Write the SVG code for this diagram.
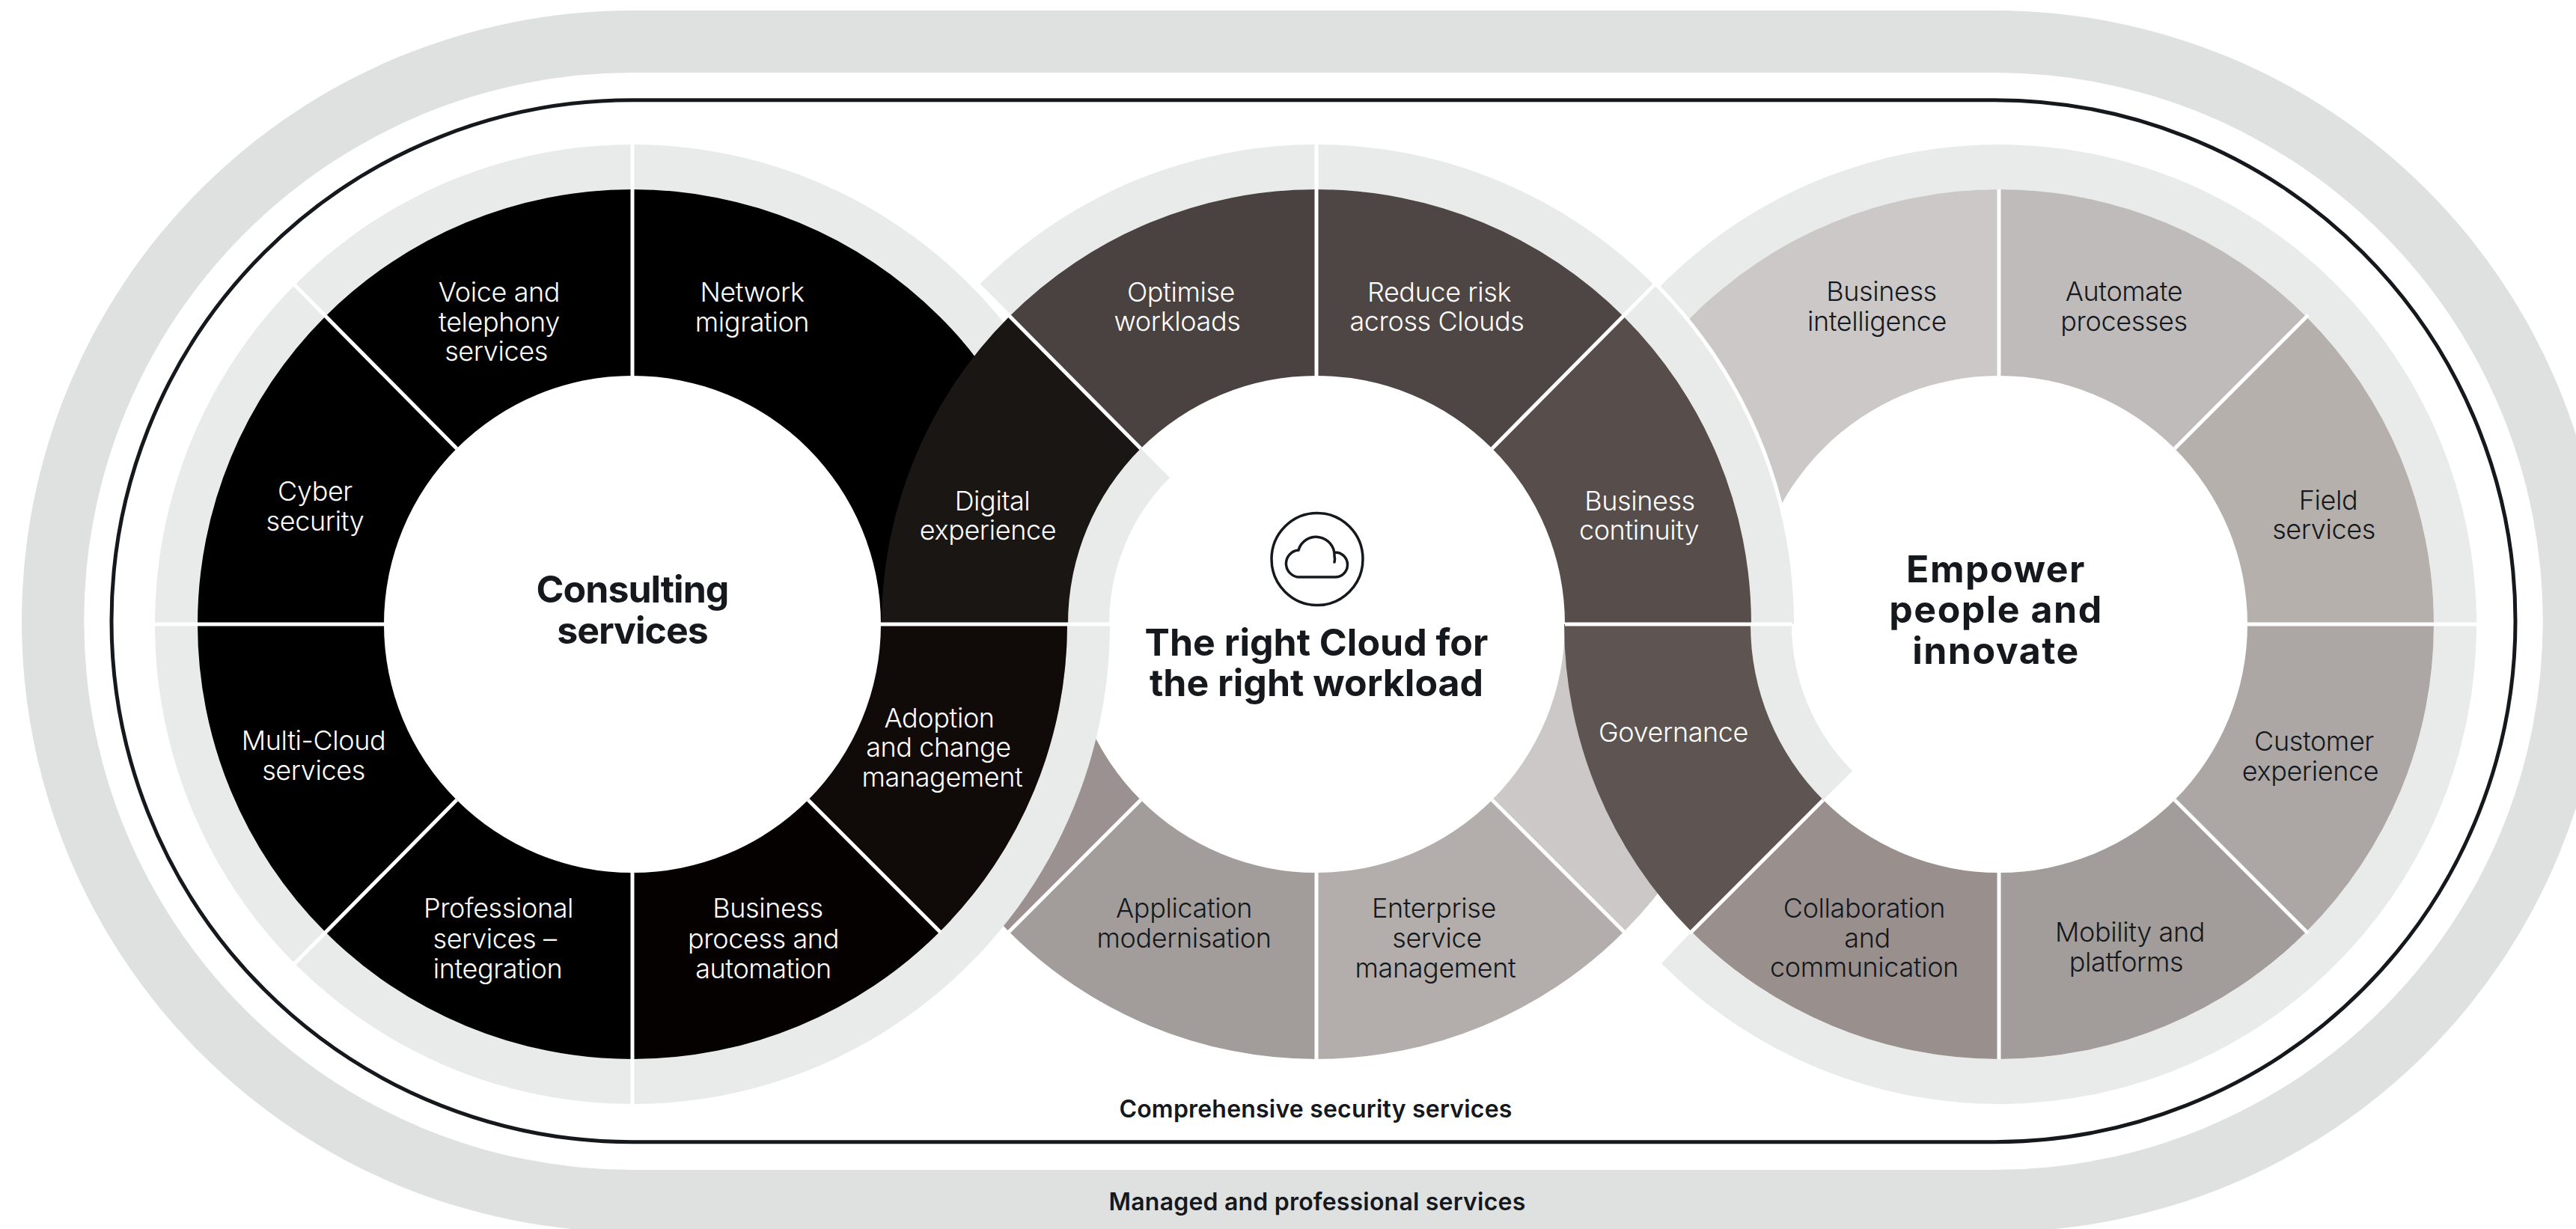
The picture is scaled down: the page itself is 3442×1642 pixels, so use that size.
<svg xmlns="http://www.w3.org/2000/svg" width="3442" height="1642" viewBox="0 0 3442 1642">
<style>
text{font-family:"Inter","Liberation Sans",sans-serif;text-anchor:middle}
.l{font-size:36px;font-weight:300;letter-spacing:-.4px}
.w{fill:#fff}
.k{fill:#15181c}
.h{font-size:50px;font-weight:700;fill:#15181c}
.h1{letter-spacing:-1px}
.h3{letter-spacing:1.5px}
.s{font-size:32px;font-weight:600;fill:#15181c;letter-spacing:.2px}
.ring{fill:#e9ebea}
.div{stroke:#fff;stroke-width:5;fill:none}
</style>
<g id="managed-services">
<path fill="#dfe1e0" fill-rule="evenodd" d="M845 14H2665A816 816 0 0 1 2665 1646H845A816 816 0 0 1 845 14ZM845 97A733 733 0 0 0 845 1563H2665A733 733 0 0 0 2665 97Z"/>
<text class="s" x="1760" y="1617">Managed and professional services</text>
</g>
<g id="security-services">
<path fill="none" stroke="#15181c" stroke-width="5" d="M845 133.7H2665A696 696 0 0 1 2665 1525.7H845A696 696 0 0 1 845 133.7Z"/>
<text class="s" x="1758" y="1493">Comprehensive security services</text>
</g>

<g id="right-ring-under">
<path class="ring" d="M2182.3 422A638 641 0 1 1 2220 1287.3L2260.2 1244.8A581 581 0 1 0 2226 460.5Z"/>
</g>
<g id="business-intelligence">
<path fill="#cdc8c8" d="M2090 834A581 581 0 0 1 2671 253V502A332 332 0 0 0 2339 834Z"/>
<text class="l k" x="2514" y="402">Business</text><text class="l k" x="2508" y="442">intelligence</text>
</g>

<g id="centre-lower">
<path fill="#cdc8c8" d="M2340 834A581 581 0 0 1 2169.8 1244.8L1993.8 1068.8A332 332 0 0 0 2091 834Z"/>
<path fill="#9a9190" d="M1348.2 1244.8A581 581 0 0 1 1178 834H1427A332 332 0 0 0 1524.2 1068.8Z"/>
</g>
<g id="enterprise-service-management">
<path fill="#b3aeab" d="M2169.8 1244.8A581 581 0 0 1 1759 1415V1166A332 332 0 0 0 1993.8 1068.8Z"/>
<text class="l k" x="1916" y="1226">Enterprise</text><text class="l k" x="1920" y="1266">service</text><text class="l k" x="1918" y="1306">management</text>
</g>
<g id="application-modernisation">
<path fill="#a29d9a" d="M1759 1415A581 581 0 0 1 1348.2 1244.8L1524.2 1068.8A332 332 0 0 0 1759 1166Z"/>
<text class="l k" x="1582" y="1226">Application</text><text class="l k" x="1582" y="1266">modernisation</text>
</g>

<g id="left-ring">
<path class="ring" d="M1483 834A638 641 0 1 1 1397.5 513.5L1348.2 543.5A581 581 0 1 0 1426 834Z"/>
</g>
<g id="network-migration">
<path fill="#000" d="M845 253A581 581 0 0 1 1426 834H1177A332 332 0 0 0 845 502Z"/>
<text class="l w" x="1005" y="403">Network</text><text class="l w" x="1005" y="443">migration</text>
</g>
<g id="voice-telephony">
<path fill="#000" d="M434.2 423.2A581 581 0 0 1 845 253V502A332 332 0 0 0 610.2 599.2Z"/>
<text class="l w" x="667" y="403">Voice and</text><text class="l w" x="667" y="443">telephony</text><text class="l w" x="663" y="482">services</text>
</g>
<g id="cyber-security">
<path fill="#000" d="M264 834A581 581 0 0 1 434.2 423.2L610.2 599.2A332 332 0 0 0 513 834Z"/>
<text class="l w" x="421" y="669">Cyber</text><text class="l w" x="421" y="709">security</text>
</g>
<g id="multi-cloud">
<path fill="#000" d="M264 834H513A332 332 0 0 0 610.2 1068.8L434.2 1244.8A581 581 0 0 1 264 834Z"/>
<text class="l w" x="419" y="1002">Multi-Cloud</text><text class="l w" x="419" y="1042">services</text>
</g>
<g id="professional-services">
<path fill="#000" d="M434.2 1244.8L610.2 1068.8A332 332 0 0 0 845 1166V1415A581 581 0 0 1 434.2 1244.8Z"/>
<text class="l w" x="666" y="1226">Professional</text><text class="l w" x="661" y="1267">services –</text><text class="l w" x="665" y="1307">integration</text>
</g>
<g id="business-process">
<path fill="#050101" d="M845 1415V1166A332 332 0 0 0 1079.8 1068.8L1255.8 1244.8A581 581 0 0 1 845 1415Z"/>
<text class="l w" x="1026" y="1226">Business</text><text class="l w" x="1020" y="1267">process and</text><text class="l w" x="1020" y="1307">automation</text>
</g>
<g id="adoption-change">
<path fill="#100a08" d="M1255.8 1244.8L1079.8 1068.8A332 332 0 0 0 1177 834H1426A581 581 0 0 1 1255.8 1244.8Z"/>
<text class="l w" x="1255" y="972">Adoption</text><text class="l w" x="1254" y="1011">and change</text><text class="l w" x="1259" y="1051">management</text>
</g>
<g id="consulting-services">
<text class="h h1" x="845" y="805">Consulting</text><text class="h h1" x="845" y="860">services</text>
</g>

<g id="centre-ring">
<path fill="#fff" d="M1759 834L1304.3 377.2A643 646 0 0 1 2402 834Z"/>
<path class="ring" d="M1308 380.7A638 641 0 0 1 2397 834H2340A581 581 0 0 0 1348.2 423.2Z"/>
<path class="ring" d="M1482 834A277 277 0 0 1 1563.1 638.1L1524.2 599.2A332 332 0 0 0 1427 834Z"/>
</g>
<g id="digital-experience">
<path fill="#1a1613" d="M1178 834A581 581 0 0 1 1348.2 423.2L1524.2 599.2A332 332 0 0 0 1427 834Z"/>
<text class="l w" x="1326" y="682">Digital</text><text class="l w" x="1320" y="721">experience</text>
</g>
<g id="optimise-workloads">
<path fill="#4a4240" d="M1348.2 423.2A581 581 0 0 1 1759 253V502A332 332 0 0 0 1524.2 599.2Z"/>
<text class="l w" x="1578" y="403">Optimise</text><text class="l w" x="1573" y="442">workloads</text>
</g>
<g id="reduce-risk">
<path fill="#4e4644" d="M1759 253A581 581 0 0 1 2169.8 423.2L1993.8 599.2A332 332 0 0 0 1759 502Z"/>
<text class="l w" x="1923" y="403">Reduce risk</text><text class="l w" x="1920" y="442">across Clouds</text>
</g>
<g id="business-continuity">
<path fill="#574e4c" d="M2169.8 423.2A581 581 0 0 1 2340 834H2091A332 332 0 0 0 1993.8 599.2Z"/>
<text class="l w" x="2191" y="682">Business</text><text class="l w" x="2190" y="721">continuity</text>
</g>
<g id="right-cloud">
<ellipse cx="1760" cy="747" rx="61" ry="61.5" fill="none" stroke="#15181c" stroke-width="3.5"/>
<path fill="none" stroke="#15181c" stroke-width="3.5" stroke-linecap="round" d="M1784 738A16.5 16.5 0 0 1 1784 771H1738A18 18 0 0 1 1735 735A24.5 24.5 0 0 1 1783 743Q1784 747 1783 751"/>
<text class="h" x="1759" y="876">The right Cloud for</text><text class="h" x="1759" y="930">the right workload</text>
</g>

<g id="automate-processes">
<path fill="#c0bbbb" d="M2671 253A581 581 0 0 1 3081.8 423.2L2905.8 599.2A332 332 0 0 0 2671 502Z"/>
<text class="l k" x="2838" y="402">Automate</text><text class="l k" x="2838" y="442">processes</text>
</g>
<g id="field-services">
<path fill="#b6b0ad" d="M3081.8 423.2A581 581 0 0 1 3252 834H3003A332 332 0 0 0 2905.8 599.2Z"/>
<text class="l k" x="3111" y="681">Field</text><text class="l k" x="3105" y="720">services</text>
</g>
<g id="customer-experience">
<path fill="#aca7a4" d="M3252 834A581 581 0 0 1 3081.8 1244.8L2905.8 1068.8A332 332 0 0 0 3003 834Z"/>
<text class="l k" x="3092" y="1003">Customer</text><text class="l k" x="3087" y="1043">experience</text>
</g>
<g id="mobility-platforms">
<path fill="#a29d9a" d="M3081.8 1244.8A581 581 0 0 1 2671 1415V1166A332 332 0 0 0 2905.8 1068.8Z"/>
<text class="l k" x="2846" y="1258">Mobility and</text><text class="l k" x="2841" y="1298">platforms</text>
</g>
<g id="collaboration-communication">
<path fill="#99908e" d="M2671 1415A581 581 0 0 1 2260.2 1244.8L2436.2 1068.8A332 332 0 0 0 2671 1166Z"/>
<text class="l k" x="2491" y="1226">Collaboration</text><text class="l k" x="2495" y="1266">and</text><text class="l k" x="2491" y="1305">communication</text>
</g>
<g id="governance">
<path class="ring" d="M2394 834A277 277 0 0 0 2475.1 1029.9L2436.2 1068.8A332 332 0 0 1 2339 834Z"/>
<path fill="#5e5553" d="M2260.2 1244.8A581 581 0 0 1 2090 834H2339A332 332 0 0 0 2436.2 1068.8Z"/>
<text class="l w" x="2236" y="991">Governance</text>
</g>
<g id="empower-people">
<text class="h h3" x="2667" y="778">Empower</text><text class="h h3" x="2667" y="832">people and</text><text class="h h3" x="2667" y="887">innovate</text>
</g>

<g id="connectors" class="div">
<path d="M205 834H513M1177 834H1483M2091 834H2395M3003 834H3309"/>
<path d="M845 192V502M845 1166V1476"/>
<path d="M1759 192V502M1759 1166V1415"/>
<path d="M2671 253V502M2671 1166V1415"/>
<path d="M610.2 599.2L392 379M610.2 1068.8L392 1289M1079.8 1068.8L1257 1246"/>
<path d="M1524.2 599.2L1306 379M1993.8 599.2L2212 379M1524.2 1068.8L1346 1247M1993.8 1068.8L2171 1246"/>
<path d="M2905.8 599.2L3084 421M2905.8 1068.8L3084 1247M2436.2 1068.8L2258 1247"/>
</g>
</svg>
